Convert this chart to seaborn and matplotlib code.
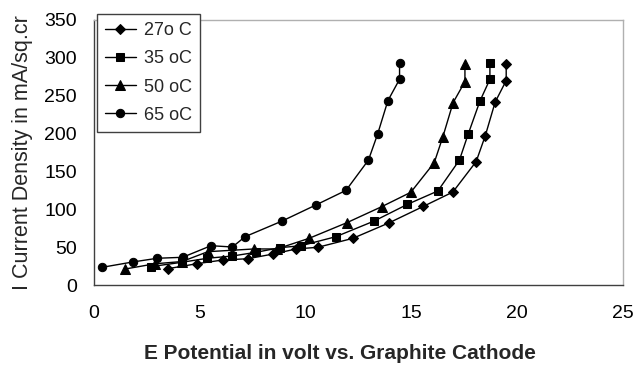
import matplotlib
matplotlib.use("Agg")
import matplotlib.pyplot as plt
import seaborn as sns
import pandas as pd

# ---- data ----
labels = ["27o C", "35 oC", "50 oC", "65 oC"]

x_27 = [3.48, 4.86, 6.08, 7.27, 8.48, 9.55, 10.58, 12.23, 13.96, 15.57, 16.96, 18.06, 18.49, 18.96, 19.48, 19.48]
y_27 = [21.5, 28.1, 33.0, 34.7, 41.0, 47.6, 49.8, 61.6, 82.3, 103.9, 122.8, 163.0, 197.0, 241.7, 270.0, 292.0]

x_35 = [2.68, 4.15, 5.36, 6.54, 7.66, 8.79, 9.79, 11.43, 13.24, 14.81, 16.25, 17.27, 17.68, 18.24, 18.71, 18.71]
y_35 = [24.2, 30.0, 35.3, 38.3, 43.2, 49.3, 51.9, 63.8, 84.5, 106.5, 124.2, 165.0, 199.0, 243.0, 271.7, 293.7]

x_50 = [1.47, 2.87, 4.16, 5.38, 7.56, 8.64, 10.17, 11.95, 13.60, 14.97, 16.08, 16.49, 16.97, 17.53, 17.53]
y_50 = [21.1, 28.0, 31.0, 44.0, 47.6, 47.6, 61.7, 82.3, 103.5, 122.4, 161.6, 196.0, 240.8, 268.6, 292.0]

x_65 = [0.39, 1.83, 2.99, 4.19, 5.53, 6.54, 7.14, 8.89, 10.51, 11.91, 12.97, 13.40, 13.89, 14.44, 14.44]
y_65 = [23.4, 30.4, 35.3, 36.6, 51.9, 50.2, 63.8, 84.5, 106.0, 125.0, 165.0, 199.0, 243.5, 271.7, 293.7]

x_ticks = [0, 5, 10, 15, 20, 25]
y_ticks = [0, 50, 100, 150, 200, 250, 300, 350]

series = [(labels[0], x_27, y_27, "D", 5.5),
          (labels[1], x_35, y_35, "s", 5.5),
          (labels[2], x_50, y_50, "^", 6.5),
          (labels[3], x_65, y_65, "o", 6.0)]

sns.set_theme(style="white")
plt.rcParams["font.family"] = ["Liberation Sans", "DejaVu Sans"]

fig = plt.figure(figsize=(6.35, 3.72), dpi=100)
ax = fig.add_axes([94 / 635, 1 - 285 / 372, (623 - 94) / 635, (285 - 20) / 372])

for name, xs, ys, mk, ms in series:
    df = pd.DataFrame({"x": xs, "y": ys})
    sns.lineplot(data=df, x="x", y="y", ax=ax, sort=False, estimator=None,
                 color="black", linewidth=1.0, marker=mk, markersize=ms,
                 markeredgecolor="black", markerfacecolor="black", label=name)

ax.set_xlim(0, 25)
ax.set_ylim(0, 350)
ax.set_xticks(x_ticks)
ax.set_yticks(y_ticks)
ax.tick_params(axis="both", labelsize=14, colors="black", length=4.5, width=1,
               direction="out")
ax.tick_params(axis="x", pad=10)
ax.tick_params(axis="y", pad=8)

for side in ["left", "bottom"]:
    ax.spines[side].set_color("#404040")
    ax.spines[side].set_linewidth(1.0)
for side in ["top", "right"]:
    ax.spines[side].set_color("#b0b0b0")
    ax.spines[side].set_linewidth(1.0)

ax.set_xlabel("E Potential in volt vs. Graphite Cathode", fontsize=15,
              fontweight="bold", labelpad=16)
ax.xaxis.label.set_x((340 - 94) / 529)
ax.set_ylabel("I Current Density in mA/sq.cr", fontsize=15.5, labelpad=8)

leg = ax.legend(loc="upper left", bbox_to_anchor=(3 / 529, 1 + 6 / 265),
                frameon=True, fancybox=False, fontsize=13, handlelength=1.7,
                handletextpad=0.45, borderpad=0.45, labelspacing=0.62,
                borderaxespad=0)
leg.get_frame().set_edgecolor("#404040")
leg.get_frame().set_linewidth(1.0)
leg.get_frame().set_alpha(1.0)

fig.savefig("out.png", dpi=100)
